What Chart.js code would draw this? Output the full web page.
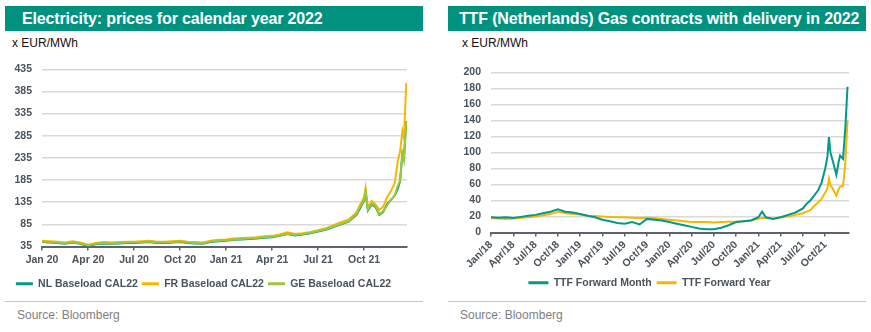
<!DOCTYPE html>
<html><head><meta charset="utf-8">
<script src="https://cdn.jsdelivr.net/npm/chart.js@4/dist/chart.umd.min.js"></script>
<style>
body{margin:0;width:871px;height:332px;background:#fff;font-family:Arial,"Liberation Sans",sans-serif;position:relative;overflow:hidden}
.bar{position:absolute;top:6px;height:25px;background:#00927f;color:#fff;font-weight:bold;font-size:16px;letter-spacing:-0.15px;line-height:25px;box-sizing:border-box;white-space:nowrap}
.unit{position:absolute;top:36px;font-size:12px;color:#111;line-height:15px}
.sep{position:absolute;top:301px;height:1px;background:#c6c6c6}
.src{position:absolute;top:308px;font-size:12px;color:#7f7f7f;line-height:15px}
canvas{position:absolute}
</style></head><body>
<div class="bar" style="left:5px;width:418px;padding-left:17px">Electricity: prices for calendar year 2022</div>
<div class="unit" style="left:12px">x EUR/MWh</div>
<canvas id="c1" width="423" height="246" style="left:0;top:53px"></canvas>
<div class="sep" style="left:5px;width:418px"></div>
<div class="src" style="left:17px">Source: Bloomberg</div>

<div class="bar" style="left:448px;width:418px;padding-left:11px">TTF (Netherlands) Gas contracts with delivery in 2022</div>
<div class="unit" style="left:462px">x EUR/MWh</div>
<canvas id="c2" width="421" height="242" style="left:450px;top:56px"></canvas>
<div class="sep" style="left:448px;width:418px"></div>
<div class="src" style="left:460px">Source: Bloomberg</div>
<script>
// ---- Left chart: electricity CAL22 (x = months since Jan 2020) ----
const elecMonths = [0,0.5,1,1.5,2,2.5,3,3.5,4,4.5,5,5.5,6,6.5,7,7.5,8,8.5,9,9.5,10,10.5,11,11.5,12,12.5,13,13.5,14,14.5,15,15.5,16,16.5,17,17.5,18,18.5,19,19.5,20,20.25,20.5,20.75,21,21.1,21.25,21.5,21.75,22,22.25,22.5,22.75,23,23.2,23.35,23.5,23.6,23.75];
const nlBaseload = [45,44,43,41,44,41,36,40,42,41,42,43,43,44,45,43,43,44,45,43,42,41,45,47,48,50,51,52,53,55,56,59,63,60,62,65,69,73,79,85,91,99,106,122,138,158,116,130,124,106,113,131,140,150,165,183,245,235,318];
const frBaseload = [48,47,46,44,47,44,39,43,45,44,45,46,46,47,48,46,46,47,48,46,45,44,48,50,51,53,54,55,56,58,59,62,67,63,65,68,72,76,83,90,96,104,112,130,146,167,122,138,130,118,125,146,160,178,228,250,296,280,404];
const geBaseload = [46,45,44,42,45,42,37,41,43,42,43,44,44,45,46,44,44,45,46,44,43,42,46,48,49,51,52,53,54,56,57,60,64,61,63,66,70,74,80,86,92,100,108,125,140,160,118,132,126,108,115,128,140,150,172,185,245,230,316];
const elecTickLabels = ['Jan 20','Apr 20','Jul 20','Oct 20','Jan 21','Apr 21','Jul 21','Oct 21'];
const elecTickMonths = [0,3,6,9,12,15,18,21];
const elecSeriesNames = ['NL Baseload CAL22','FR Baseload CAL22','GE Baseload CAL22'];

// ---- Right chart: TTF gas (x = months since Jan 2018) ----
const gasMonths = [0,1,2,3,4,5,6,7,8,9,10,11,12,13,14,15,16,17,18,19,20,21,22,23,24,25,26,27,28,29,30,31,32,33,34,35,36,36.5,37,38,39,40,41,42,42.5,43,43.5,44,44.5,45,45.3,45.5,45.7,46,46.5,46.8,47,47.4,47.7,48];
const ttfMonth = [19,18.5,19,18,19.5,21,22,24,26,29,26,25,23,21,19,16,14,12,11,13,10,17,16,15,13,11,9,7,5,4,4,6,9,13,14,15,19,26,19,17,19,22,25,30,36,40,46,52,62,80,95,119,100,90,72,88,96,92,130,182];
const ttfYear = [18,17.5,17,17.5,18,19,20,21.5,23,26,24,23,22.5,21,20.5,20,19.5,19,19,18.5,18,18.5,18,17,16,15,14,13,13,13,12.5,13,13.5,13.5,14,15,17,18.5,18,17.5,19,20,22,24,26,28,33,37,42,50,55,67,59,55,46,54,57,58,86,140];
const gasTickLabels = ['Jan/18','Apr/18','Jul/18','Oct/18','Jan/19','Apr/19','Jul/19','Oct/19','Jan/20','Apr/20','Jul/20','Oct/20','Jan/21','Apr/21','Jul/21','Oct/21'];
const gasTickMonths = [0,3,6,9,12,15,18,21,24,27,30,33,36,39,42,45];
const gasSeriesNames = ['TTF Forward Month','TTF Forward Year'];

const TEAL = '#00998a', YELLOW = '#f5b800', GREEN = '#9cc63b';
const TXT = '#4a525a', AXIS = '#5b646c', GRID = '#dadada';
const FONT = {family:'Arial, "Liberation Sans", sans-serif', size:10.5, weight:'bold'};

function pts(xs, ys){ return xs.map((x,i)=>({x:x, y:ys[i]})); }
function ds(label, xs, ys, color){
  return {label, data:pts(xs,ys), borderColor:color, backgroundColor:color, borderWidth:2, pointRadius:0, tension:0, fill:false};
}
function legendOpts(pad, bw){
  return {position:'bottom', labels:{font:FONT, color:TXT, boxWidth:bw, boxHeight:3, padding:pad,
    sort:(a,b)=>a.datasetIndex-b.datasetIndex,
    generateLabels:(chart)=>Chart.defaults.plugins.legend.labels.generateLabels(chart).map(l=>Object.assign(l,{lineWidth:0, fillStyle:l.strokeStyle}))}};
}

new Chart(document.getElementById('c1'), {
  type:'line',
  data:{datasets:[
    Object.assign(ds(elecSeriesNames[0], elecMonths, nlBaseload, TEAL),{order:2}),
    Object.assign(ds(elecSeriesNames[1], elecMonths, frBaseload, YELLOW),{order:1}),
    Object.assign(ds(elecSeriesNames[2], elecMonths, geBaseload, GREEN),{order:0})
  ]},
  options:{responsive:false, animation:false, layout:{padding:{top:3,right:16,left:0,bottom:0}},
    plugins:{legend:legendOpts(4, 17), tooltip:{enabled:false}},
    scales:{
      x:{type:'linear', min:0, max:23.8,
        afterBuildTicks:s=>{s.ticks=elecTickMonths.map(v=>({value:v}));},
        afterFit:s=>{s.height=28;},
        ticks:{autoSkip:false, maxRotation:0, font:FONT, color:TXT, padding:3, callback:(v,i)=>elecTickLabels[i]},
        grid:{drawOnChartArea:false, drawTicks:true, tickLength:4, color:AXIS, lineWidth:1.5},
        border:{display:true, color:AXIS, width:2}},
      y:{min:35, max:435, ticks:{stepSize:50, autoSkip:false, font:FONT, color:TXT, padding:10},
        afterFit:s=>{s.width=42;},
        grid:{drawTicks:false, color:GRID, lineWidth:1.5}, border:{display:false}}
    }}
});

new Chart(document.getElementById('c2'), {
  type:'line',
  data:{datasets:[
    ds(gasSeriesNames[0], gasMonths, ttfMonth, TEAL),
    ds(gasSeriesNames[1], gasMonths, ttfYear, YELLOW)
  ]},
  options:{responsive:false, animation:false, layout:{padding:{top:3,right:22,left:0,bottom:0}},
    plugins:{legend:legendOpts(5, 20), tooltip:{enabled:false}},
    scales:{
      x:{type:'linear', min:0, max:48.2,
        afterBuildTicks:s=>{s.ticks=gasTickMonths.map(v=>({value:v}));},
        afterFit:s=>{s.height=40;},
        ticks:{autoSkip:false, minRotation:45, maxRotation:45, font:FONT, color:TXT, padding:2, callback:(v,i)=>gasTickLabels[i]},
        grid:{drawOnChartArea:false, drawTicks:true, tickLength:4, color:AXIS, lineWidth:1.5},
        border:{display:true, color:AXIS, width:2}},
      y:{min:0, max:200, ticks:{stepSize:20, autoSkip:false, font:FONT, color:TXT, padding:10},
        afterFit:s=>{s.width=41;},
        grid:{drawTicks:false, color:GRID, lineWidth:1.5}, border:{display:false}}
    }}
});
</script>
</body></html>
